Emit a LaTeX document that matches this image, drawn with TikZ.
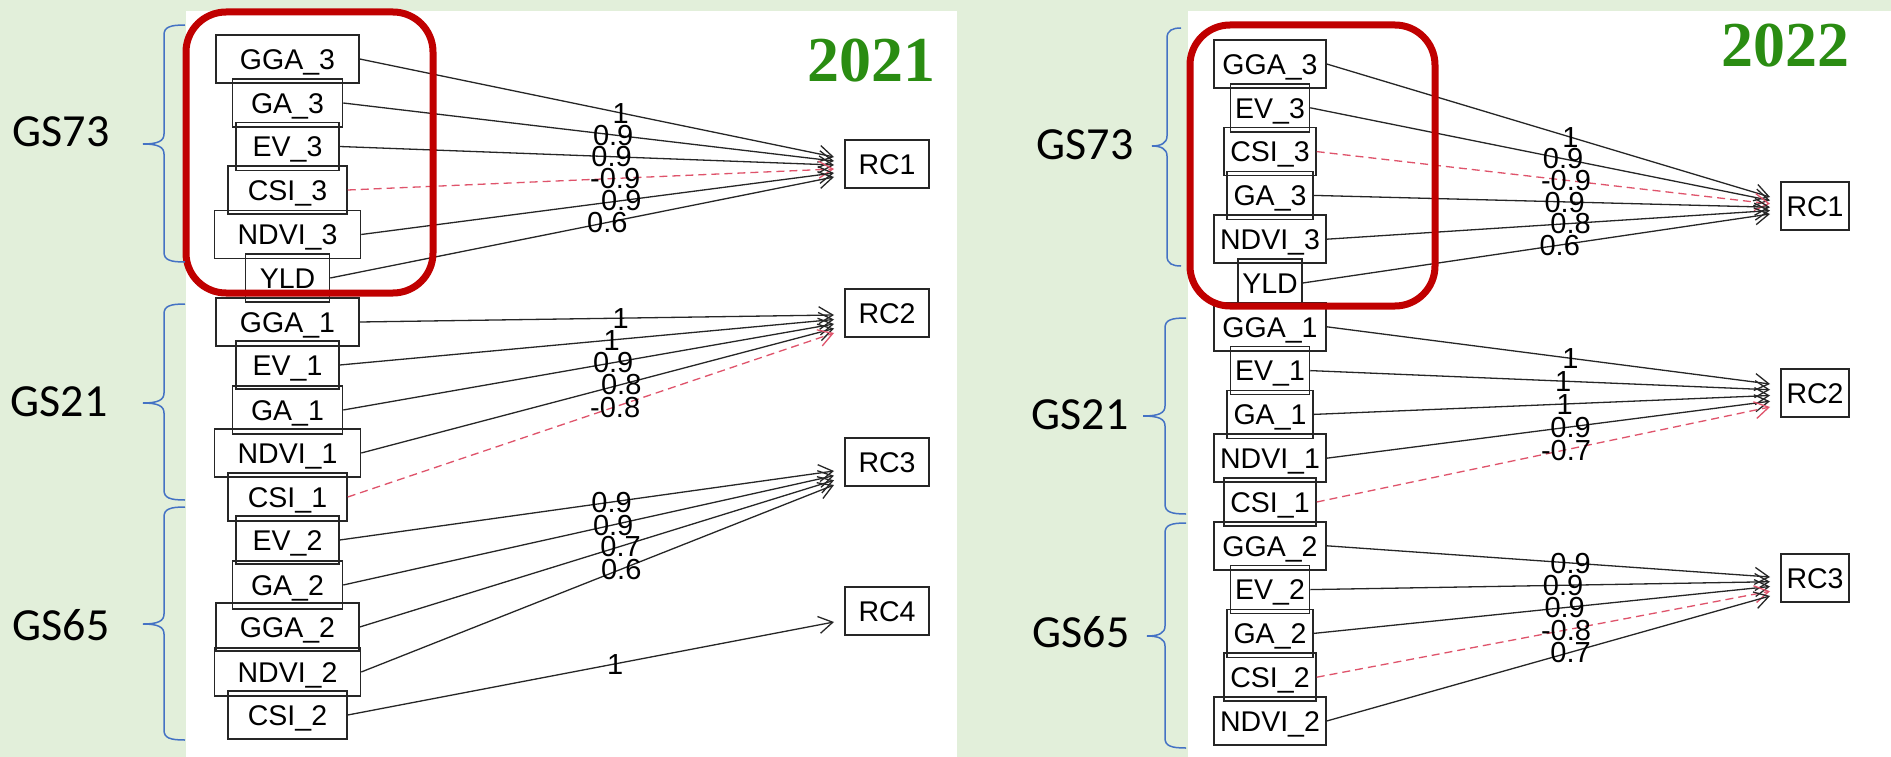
\documentclass[tikz,border=0pt]{standalone}
\usepackage{fontspec}
\setmainfont{Liberation Sans}
\newfontfamily\calib{Carlito}
\newfontfamily\tms{Liberation Serif}
\usetikzlibrary{arrows.meta}
\definecolor{bggreen}{HTML}{E2EFDA}
\definecolor{boxred}{HTML}{C00000}
\definecolor{brblue}{HTML}{4472C4}
\definecolor{negred}{HTML}{DF536B}
\definecolor{yeargreen}{HTML}{2A8C12}
\newcommand\mybrace[6]{%
  \draw[brace] (#5,#2) .. controls ({#1+6},#2) and (#1,{#2+2}) .. (#1,{#2+10})
    -- (#1,{#3-10}) .. controls (#1,{#3-3}) and ({#1-6},#3) .. (#6,#3)
    .. controls ({#1-6},#3) and (#1,{#3+3}) .. (#1,{#3+10})
    -- (#1,{#4-10}) .. controls (#1,{#4-2}) and ({#1+6},#4) .. (#5,#4);}
\begin{document}
\begin{tikzpicture}[x=1pt,y=-1pt,
  vbox/.style={draw=black!85, line width=1.5pt, minimum height=48pt, minimum width=#1,
    inner sep=0pt, text height=20.5pt, text depth=0pt, font=\fontsize{28.5}{30}\selectfont},
  ld/.style={draw=black!85, line width=1.3pt, -{Straight Barb[length=14pt,width=17pt]}},
  ng/.style={ld, draw=negred, dash pattern=on 8pt off 5pt},
  lbl/.style={font=\fontsize{29}{30}\selectfont, inner sep=0pt, text height=20.5pt, text depth=0pt},
  brace/.style={draw=brblue, line width=1.5pt},
  gs/.style={font=\calib\fontsize{46}{48}\selectfont, inner sep=0pt},
  yr/.style={font=\tms\bfseries\fontsize{64}{66}\selectfont, text=yeargreen, inner sep=0pt},
  redbox/.style={draw=boxred, line width=7pt, rounded corners=40pt}]
\useasboundingbox (0,0) rectangle (1891,757);
\fill[bggreen] (0,0) rectangle (1891,757);
\fill[white] (186,11) rectangle (957,757);
\fill[white] (1188,11) rectangle (1891,757);

% ---------------- 2021 ----------------
\node[vbox=143pt] (LGGA3) at (287.5,59) {GGA\_3};
\node[vbox=110pt] (LGA3) at (287.5,103) {GA\_3};
\node[vbox=103pt] (LEV3) at (287.5,146.5) {EV\_3};
\node[vbox=119pt] (LCSI3) at (287.5,190) {CSI\_3};
\node[vbox=146pt] (LNDVI3) at (287.5,234.5) {NDVI\_3};
\node[vbox=84pt] (LYLD) at (287.5,278) {YLD};
\node[vbox=143pt] (LGGA1) at (287.5,322) {GGA\_1};
\node[vbox=103pt] (LEV1) at (287.5,365) {EV\_1};
\node[vbox=110pt] (LGA1) at (287.5,410) {GA\_1};
\node[vbox=146pt] (LNDVI1) at (287.5,453) {NDVI\_1};
\node[vbox=119pt] (LCSI1) at (287.5,497) {CSI\_1};
\node[vbox=103pt] (LEV2) at (287.5,540) {EV\_2};
\node[vbox=110pt] (LGA2) at (287.5,585) {GA\_2};
\node[vbox=143pt] (LGGA2) at (287.5,627) {GGA\_2};
\node[vbox=146pt] (LNDVI2) at (287.5,672) {NDVI\_2};
\node[vbox=119pt] (LCSI2) at (287.5,715) {CSI\_2};

\node[vbox=84pt] (LRC1) at (887,164) {RC1};
\node[vbox=84pt] (LRC2) at (887,313) {RC2};
\node[vbox=84pt] (LRC3) at (887,462) {RC3};
\node[vbox=84pt] (LRC4) at (887,611) {RC4};

\coordinate (a1) at (834,157);
\coordinate (a2) at (834,161);
\coordinate (a3) at (834,165);
\coordinate (a4) at (834,169);
\coordinate (a5) at (834,173);
\coordinate (a6) at (834,177);
\coordinate (b1) at (834,315);
\coordinate (b2) at (834,319.5);
\coordinate (b3) at (834,324);
\coordinate (b4) at (834,328.5);
\coordinate (b5) at (834,333);
\coordinate (c1) at (834,471);
\coordinate (c2) at (834,475.7);
\coordinate (c3) at (834,480.3);
\coordinate (c4) at (834,485);
\coordinate (d1) at (834,622);

\draw[ld] (LGGA3.east) -- node[lbl,pos=.55]{1} (a1);
\draw[ld] (LGA3.east) -- node[lbl,pos=.55]{0.9} (a2);
\draw[ld] (LEV3.east) -- node[lbl,pos=.55]{0.9} (a3);
\draw[ng] (LCSI3.east) -- node[lbl,pos=.55]{-0.9} (a4);
\draw[ld] (LNDVI3.east) -- node[lbl,pos=.55]{0.9} (a5);
\draw[ld] (LYLD.east) -- node[lbl,pos=.55]{0.6} (a6);

\draw[ld] (LGGA1.east) -- node[lbl,pos=.55]{1} (b1);
\draw[ld] (LEV1.east) -- node[lbl,pos=.55]{1} (b2);
\draw[ld] (LGA1.east) -- node[lbl,pos=.55]{0.9} (b3);
\draw[ld] (LNDVI1.east) -- node[lbl,pos=.55]{0.8} (b4);
\draw[ng] (LCSI1.east) -- node[lbl,pos=.55]{-0.8} (b5);

\draw[ld] (LEV2.east) -- node[lbl,pos=.55]{0.9} (c1);
\draw[ld] (LGA2.east) -- node[lbl,pos=.55]{0.9} (c2);
\draw[ld] (LGGA2.east) -- node[lbl,pos=.55]{0.7} (c3);
\draw[ld] (LNDVI2.east) -- node[lbl,pos=.55]{0.6} (c4);

\draw[ld] (LCSI2.east) -- node[lbl,pos=.55]{1} (d1);

\node[yr] (Y1) at (871.5,60.5) {2021};

% ---------------- 2022 ----------------
\node[vbox=112pt] (RGGA3) at (1270,64) {GGA\_3};
\node[vbox=79pt] (REV3) at (1270,107.8) {EV\_3};
\node[vbox=92pt] (RCSI3) at (1270,151.6) {CSI\_3};
\node[vbox=86pt] (RGA3) at (1270,195.4) {GA\_3};
\node[vbox=112pt] (RNDVI3) at (1270,239.2) {NDVI\_3};
\node[vbox=64pt] (RYLD) at (1270,283) {YLD};
\node[vbox=112pt] (RGGA1) at (1270,326.8) {GGA\_1};
\node[vbox=79pt] (REV1) at (1270,370.6) {EV\_1};
\node[vbox=86pt] (RGA1) at (1270,414.4) {GA\_1};
\node[vbox=112pt] (RNDVI1) at (1270,458.2) {NDVI\_1};
\node[vbox=92pt] (RCSI1) at (1270,502) {CSI\_1};
\node[vbox=112pt] (RGGA2) at (1270,545.8) {GGA\_2};
\node[vbox=79pt] (REV2) at (1270,589.6) {EV\_2};
\node[vbox=86pt] (RGA2) at (1270,633.4) {GA\_2};
\node[vbox=92pt] (RCSI2) at (1270,677.2) {CSI\_2};
\node[vbox=112pt] (RNDVI2) at (1270,721) {NDVI\_2};

\node[vbox=68pt] (RRC1) at (1815,206) {RC1};
\node[vbox=68pt] (RRC2) at (1815,393) {RC2};
\node[vbox=68pt] (RRC3) at (1815,578) {RC3};

\coordinate (p1) at (1770,197);
\coordinate (p2) at (1770,200.4);
\coordinate (p3) at (1770,203.8);
\coordinate (p4) at (1770,207.2);
\coordinate (p5) at (1770,210.6);
\coordinate (p6) at (1770,214);
\coordinate (q1) at (1770,384);
\coordinate (q2) at (1770,389.75);
\coordinate (q3) at (1770,395.5);
\coordinate (q4) at (1770,401.25);
\coordinate (q5) at (1770,407);
\coordinate (r1) at (1770,577);
\coordinate (r2) at (1770,581.75);
\coordinate (r3) at (1770,586.5);
\coordinate (r4) at (1770,591.25);
\coordinate (r5) at (1770,596);

\draw[ld] (RGGA3.east) -- node[lbl,pos=.55]{1} (p1);
\draw[ld] (REV3.east) -- node[lbl,pos=.55]{0.9} (p2);
\draw[ng] (RCSI3.east) -- node[lbl,pos=.55]{-0.9} (p3);
\draw[ld] (RGA3.east) -- node[lbl,pos=.55]{0.9} (p4);
\draw[ld] (RNDVI3.east) -- node[lbl,pos=.55]{0.8} (p5);
\draw[ld] (RYLD.east) -- node[lbl,pos=.55]{0.6} (p6);

\draw[ld] (RGGA1.east) -- node[lbl,pos=.55]{1} (q1);
\draw[ld] (REV1.east) -- node[lbl,pos=.55]{1} (q2);
\draw[ld] (RGA1.east) -- node[lbl,pos=.55]{1} (q3);
\draw[ld] (RNDVI1.east) -- node[lbl,pos=.55]{0.9} (q4);
\draw[ng] (RCSI1.east) -- node[lbl,pos=.55]{-0.7} (q5);

\draw[ld] (RGGA2.east) -- node[lbl,pos=.55]{0.9} (r1);
\draw[ld] (REV2.east) -- node[lbl,pos=.55]{0.9} (r2);
\draw[ld] (RGA2.east) -- node[lbl,pos=.55]{0.9} (r3);
\draw[ng] (RCSI2.east) -- node[lbl,pos=.55]{-0.8} (r4);
\draw[ld] (RNDVI2.east) -- node[lbl,pos=.55]{0.7} (r5);

\node[yr] (Y2) at (1785,46) {2022};

% ---------------- highlight boxes ----------------
\draw[redbox] (186,12) rectangle (433,293);
\draw[redbox] (1190,25) rectangle (1435,306);

% ---------------- braces and group labels ----------------
\mybrace{164}{25}{144}{262}{185}{143}
\mybrace{164}{304}{403}{500}{185}{143}
\mybrace{164}{507}{624}{740}{185}{143}
\mybrace{1167}{28}{146}{266}{1181}{1152}
\mybrace{1165}{318}{416}{514}{1186}{1143}
\mybrace{1165}{523}{636}{748}{1186}{1147}

\node[gs] (G73a) at (61,132) {GS73};
\node[gs] (G21a) at (59,402) {GS21};
\node[gs] (G65a) at (61,625) {GS65};
\node[gs] (G73b) at (1085,145) {GS73};
\node[gs] (G21b) at (1080,415) {GS21};
\node[gs] (G65b) at (1081,632) {GS65};
\end{tikzpicture}
\end{document}
